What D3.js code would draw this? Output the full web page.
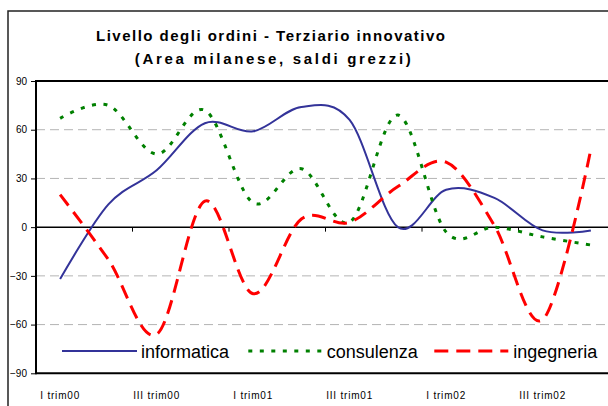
<!DOCTYPE html>
<html>
<head>
<meta charset="utf-8">
<script src="https://cdn.jsdelivr.net/npm/d3@7"></script>
<style>
  html, body { margin: 0; padding: 0; background: #fff; }
  svg { display: block; font-family: "Liberation Sans", Arial, sans-serif; }
</style>
</head>
<body>
<svg id="chart" width="608" height="406"></svg>
<script>
const categories = ["I trim00","II trim00","III trim00","IV trim00",
                    "I trim01","II trim01","III trim01","IV trim01",
                    "I trim02","II trim02","III trim02","IV trim02"];
const tickLabels = ["I trim00","III trim00","I trim01","III trim01","I trim02","III trim02"];
const yTicks = [-90, -60, -30, 0, 30, 60, 90];
const informatica = [-32, 14, 35, 64, 59, 74, 66, 0, 23, 18, -2, -2];
const consulenza  = [67, 75, 45, 72, 15, 36, 3, 69, -3, 0, -6, -11];
const ingegneria  = [20, -20, -66, 16, -41, 5, 3, 25, 40, 1, -57, 48];
const seriesNames = ["informatica", "consulenza", "ingegneria"];
const titleLines = ["Livello degli ordini - Terziario innovativo", "(Area milanese, saldi grezzi)"];

const svg = d3.select("#chart");
const plotL = 36, plotT = 81, plotB = 373.3, catW = 48.25;
const plotR = plotL + catW * categories.length;

const x = d3.scaleBand().domain(categories).range([plotL, plotR]).paddingInner(0).paddingOuter(0);
const y = d3.scaleLinear().domain([-90, 90]).range([plotB, plotT]);
const cx = c => x(c) + x.bandwidth() / 2;

// outer frame
svg.append("rect").attr("x", 8).attr("y", 11).attr("width", 640).attr("height", 420)
  .attr("fill", "#fff").attr("stroke", "#222").attr("stroke-width", 1.5);

// title
const tl = [{t: titleLines[0], cx: 270.5, by: 41, len: 349}, {t: titleLines[1], cx: 272.8, by: 63.5, len: 276}];
svg.selectAll("text.title").data(tl).enter().append("text")
  .attr("class", "title").attr("x", d => d.cx).attr("y", d => d.by)
  .attr("text-anchor", "middle").attr("font-size", 15).attr("font-weight", "bold")
  .attr("textLength", d => d.len).attr("lengthAdjust", "spacing")
  .attr("fill", "#000").text(d => d.t);

// gridlines
svg.append("g").selectAll("line").data(yTicks.filter(v => v !== 0 && Math.abs(v) !== 90)).enter()
  .append("line").attr("x1", plotL).attr("x2", 640)
  .attr("y1", d => y(d)).attr("y2", d => y(d))
  .attr("stroke", "#b4b4b4").attr("stroke-width", 1).attr("stroke-dasharray", "9,5");

// y axis
const yAxis = d3.axisLeft(y).tickValues(yTicks).tickSize(5).tickPadding(4);
const gy = svg.append("g").attr("transform", `translate(${plotL},0)`).call(yAxis);
gy.select(".domain").remove();
gy.selectAll(".tick line").attr("stroke", "#000").attr("stroke-width", 1);
gy.selectAll(".tick text").attr("font-size", 10).attr("fill", "#000")
  .attr("font-family", "'Liberation Sans', Arial, sans-serif");

// plot border (top, left, bottom)
svg.append("line").attr("x1", plotL).attr("x2", 640).attr("y1", plotT).attr("y2", plotT)
  .attr("stroke", "#000").attr("stroke-width", 2);
svg.append("line").attr("x1", plotL).attr("x2", 640).attr("y1", plotB).attr("y2", plotB)
  .attr("stroke", "#000").attr("stroke-width", 2);
svg.append("line").attr("x1", plotL).attr("x2", plotL).attr("y1", plotT - 1).attr("y2", plotB + 1)
  .attr("stroke", "#000").attr("stroke-width", 2);

// zero axis with tick marks
svg.append("line").attr("x1", plotL).attr("x2", 640).attr("y1", y(0)).attr("y2", y(0))
  .attr("stroke", "#000").attr("stroke-width", 1.5);
const tickCats = categories.filter((c, i) => i % 2 === 0);
svg.append("g").selectAll("line").data(tickCats).enter().append("line")
  .attr("x1", d => x(d)).attr("x2", d => x(d))
  .attr("y1", y(0)).attr("y2", y(0) + 4.5)
  .attr("stroke", "#000").attr("stroke-width", 1);

// x labels
svg.append("g").selectAll("text").data(tickLabels).enter().append("text")
  .attr("x", d => cx(d)).attr("y", 399)
  .attr("text-anchor", "middle").attr("font-size", 10).attr("letter-spacing", "0.8px")
  .attr("fill", "#000").text(d => d);

// series
const styles = [
  {data: informatica, color: "#333399", width: 2, dash: null},
  {data: consulenza, color: "#008000", width: 3, dash: "4,7.5"},
  {data: ingegneria, color: "#ff0000", width: 3, dash: "14,8"}
];
const line = d3.line().x((d, i) => cx(categories[i])).y(d => y(d)).curve(d3.curveCardinal.tension(0));
styles.forEach(s => {
  svg.append("path").datum(s.data).attr("d", line)
    .attr("fill", "none").attr("stroke", s.color).attr("stroke-width", s.width)
    .attr("stroke-dasharray", s.dash).attr("stroke-linejoin", "round");
});

// legend
const leg = [
  {x1: 62, x2: 137, tx: 141},
  {x1: 248.3, x2: 323.3, tx: 326.7},
  {x1: 434.3, x2: 508.3, tx: 513.3}
];
leg.forEach((l, i) => {
  const s = styles[i];
  svg.append("line").attr("x1", l.x1).attr("x2", l.x2).attr("y1", 351).attr("y2", 351)
    .attr("stroke", s.color).attr("stroke-width", s.width).attr("stroke-dasharray", s.dash);
  svg.append("text").attr("x", l.tx).attr("y", 357.5).attr("font-size", 18)
    .attr("fill", "#000").text(seriesNames[i]);
});
</script>
</body>
</html>
